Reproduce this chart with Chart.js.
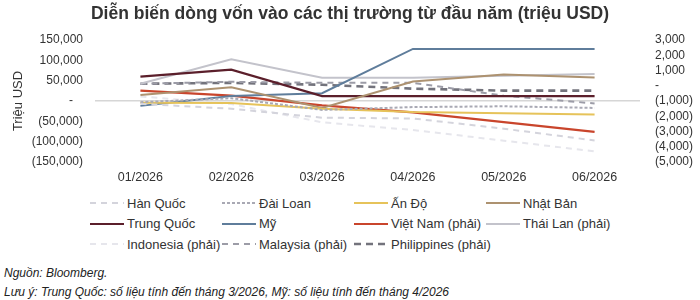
<!DOCTYPE html>
<html>
<head>
<meta charset="utf-8">
<script src="https://cdn.jsdelivr.net/npm/chart.js@4"></script>
<style>
  html, body { margin: 0; padding: 0; background: #fff; }
  body { width: 700px; height: 300px; overflow: hidden; font-family: "Liberation Sans", Arial, sans-serif; color: #333; position: relative; }
  #wrap { position: absolute; left: 0; top: 0; width: 700px; height: 188px; }
  #legend { position: absolute; left: 90px; top: 193px; width: 600px; }
  .row { height: 20.5px; display: flex; align-items: center; }
  .item { width: 132px; display: flex; align-items: center; font-size: 13px; white-space: nowrap; }
  .item svg { margin-right: 3px; flex: none; }
  #notes { position: absolute; left: 4px; top: 264px; font-size: 12px; font-style: italic; line-height: 19px; color: #222; }
</style>
</head>
<body>
<div id="wrap"><canvas id="chartCanvas"></canvas></div>
<div id="legend"></div>
<div id="notes">Nguồn: Bloomberg.<br>Lưu ý: Trung Quốc: số liệu tính đến tháng 3/2026, Mỹ: số liệu tính đến tháng 4/2026</div>
<script>
// ------- Data -------
const months = ["01/2026", "02/2026", "03/2026", "04/2026", "05/2026", "06/2026"];

// left axis (triệu USD)
const hanQuoc   = [-7000, -19000, -41000, -43000, -68000, -97000];
const daiLoan   = [-3000, 7000, -22000, -15000, -13000, -17000];
const anDo      = [-4000, -5000, -19000, -27000, -30000, -33000];
const nhatBan   = [14500, 34000, -17000, 48000, 65000, 58000];
const trungQuoc = [60000, 77000, 12000, 12000, 12000, 12000];
const my        = [-12000, 12000, 19000, 128000, 128000, 128000];

// right axis (triệu USD)
const vietNam     = [-320, -650, -1290, -1740, -2390, -3030];
const thaiLan     = [130, 1740, 520, 520, 650, 770];
const indonesia   = [-700, -1200, -2400, -2900, -3600, -4300];
const malaysia    = [130, 260, 190, 190, -650, -1160];
const philippines = [130, 190, 65, -190, -320, -320];

const leftTicks = { min: -150000, max: 150000, step: 50000 };
const rightTicks = { min: -5000, max: 3000, step: 1000 };

// ------- Series styles -------
const series = [
  { label: "Hàn Quốc", data: hanQuoc, axis: "y", color: "#d4d4dc", dash: [6, 5], width: 2 },
  { label: "Đài Loan", data: daiLoan, axis: "y", color: "#a9a9b4", dash: [3, 2], width: 2 },
  { label: "Ấn Độ", data: anDo, axis: "y", color: "#e6c35a", dash: [], width: 2 },
  { label: "Nhật Bản", data: nhatBan, axis: "y", color: "#ad9270", dash: [], width: 2 },
  { label: "Trung Quốc", data: trungQuoc, axis: "y", color: "#5b1f2b", dash: [], width: 2.2 },
  { label: "Mỹ", data: my, axis: "y", color: "#5f7d9b", dash: [], width: 2 },
  { label: "Việt Nam (phải)", data: vietNam, axis: "y1", color: "#c9452c", dash: [], width: 2.2 },
  { label: "Thái Lan (phải)", data: thaiLan, axis: "y1", color: "#c3c3cb", dash: [], width: 2 },
  { label: "Indonesia (phải)", data: indonesia, axis: "y1", color: "#e6e6ec", dash: [6, 5], width: 2 },
  { label: "Malaysia (phải)", data: malaysia, axis: "y1", color: "#9c9ca7", dash: [6, 5], width: 2 },
  { label: "Philippines (phải)", data: philippines, axis: "y1", color: "#73737c", dash: [7, 5], width: 2.6 },
];

// ------- Helpers -------
function fmt(v) {
  if (v === 0) return "-   ";
  const s = Math.abs(v).toLocaleString("en-US");
  return v < 0 ? "(" + s + ")" : s;
}

function buildLegend() {
  const el = document.getElementById("legend");
  let row = null;
  series.forEach((s, i) => {
    if (i % 4 === 0) {
      row = document.createElement("div");
      row.className = "row";
      el.appendChild(row);
    }
    const item = document.createElement("div");
    item.className = "item";
    item.innerHTML =
      `<svg width="34" height="4"><line x1="0" y1="2" x2="34" y2="2" stroke="${s.color}" stroke-width="${s.width}" stroke-dasharray="${s.dash.length ? s.dash.join(",") : "none"}"/></svg>` +
      `<span>${s.label}</span>`;
    row.appendChild(item);
  });
}

// ------- Chart -------
Chart.defaults.font.family = '"Liberation Sans", Arial, sans-serif';
Chart.defaults.color = "#333";

const ctx = document.getElementById("chartCanvas").getContext("2d");
new Chart(ctx, {
  type: "line",
  data: {
    labels: months,
    datasets: series.map((s) => ({
      label: s.label,
      data: s.data,
      yAxisID: s.axis,
      borderColor: s.color,
      backgroundColor: s.color,
      borderDash: s.dash,
      borderWidth: s.width,
      pointRadius: 0,
      tension: 0,
      fill: false,
    })),
  },
  options: {
    responsive: true,
    maintainAspectRatio: false,
    animation: false,
    layout: { padding: 0 },
    plugins: {
      legend: { display: false },
      tooltip: { enabled: false },
      title: {
        display: true,
        text: "Diễn biến dòng vốn vào các thị trường từ đầu năm (triệu USD)",
        font: { size: 17.5, weight: "bold" },
        color: "#333",
        padding: { top: 4, bottom: 15 },
      },
    },
    scales: {
      x: {
        offset: true,
        grid: { display: false, drawTicks: false, tickLength: 0 },
        border: { display: false },
        ticks: { font: { size: 12.5 }, padding: 8, maxRotation: 0, autoSkip: false },
        afterFit: (scale) => { scale.height = 26; },
      },
      y: {
        position: "left",
        min: leftTicks.min,
        max: leftTicks.max,
        ticks: { stepSize: leftTicks.step, font: { size: 12 }, padding: 12, autoSkip: false, callback: (v) => fmt(v) },
        grid: {
          drawTicks: false,
          tickLength: 0,
          color: (c) => (c.tick && c.tick.value === 0 ? "#d6d6d6" : "rgba(0,0,0,0)"),
          lineWidth: 1.5,
        },
        border: { display: false },
        title: { display: true, text: "Triệu USD", font: { size: 13 }, padding: { top: 11 } },
        afterFit: (scale) => { scale.width = 95; },
      },
      y1: {
        position: "right",
        min: rightTicks.min,
        max: rightTicks.max,
        ticks: { stepSize: rightTicks.step, font: { size: 12 }, padding: 15, autoSkip: false, callback: (v) => fmt(v) },
        grid: { display: false, drawTicks: false, tickLength: 0 },
        border: { display: false },
        afterFit: (scale) => { scale.width = 60; },
      },
    },
  },
});

buildLegend();
</script>
</body>
</html>
